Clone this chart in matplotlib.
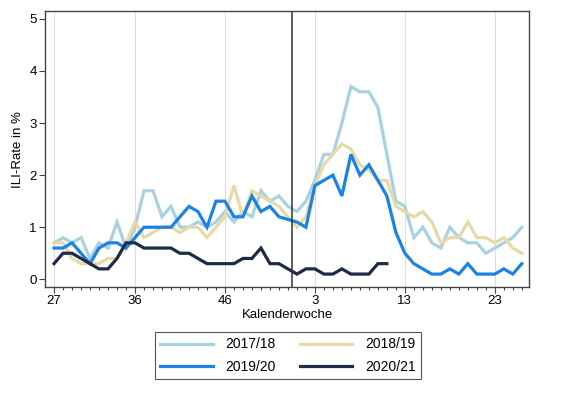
import numpy as np
import matplotlib
matplotlib.use('Agg')
import matplotlib.pyplot as plt
from matplotlib.ticker import FixedLocator

# Kalenderwochen (2020 mit KW 53)
weeks = list(range(27, 54)) + list(range(1, 27))
tick_weeks_idx = [0, 9, 19, 29, 39, 49]

# ILI-Rate in % je Saison
ili_1718 = [0.7, 0.8, 0.7, 0.8, 0.4, 0.7, 0.6, 1.1, 0.6, 1.0,
            1.7, 1.7, 1.2, 1.4, 1.0, 1.0, 1.1, 1.0, 1.1, 1.3,
            1.1, 1.3, 1.2, 1.7, 1.5, 1.6, 1.4, 1.3, 1.5, 1.9,
            2.4, 2.4, 3.0, 3.7, 3.6, 3.6, 3.3, 2.4, 1.5, 1.4,
            0.8, 1.0, 0.7, 0.6, 1.0, 0.8, 0.7, 0.7, 0.5, 0.6,
            0.7, 0.8, 1.0]
ili_1819 = [0.7, 0.7, 0.4, 0.3, 0.3, 0.3, 0.4, 0.4, 0.7, 1.1,
            0.8, 0.9, 1.0, 1.0, 0.9, 1.0, 1.0, 0.8, 1.0, 1.2,
            1.8, 1.2, 1.7, 1.6, 1.5, 1.4, 1.2, 1.0, 1.2, 1.8,
            2.2, 2.4, 2.6, 2.5, 2.2, 2.1, 1.9, 1.9, 1.4, 1.3,
            1.2, 1.3, 1.1, 0.7, 0.8, 0.8, 1.1, 0.8, 0.8, 0.7,
            0.8, 0.6, 0.5]
ili_1920 = [0.6, 0.6, 0.7, 0.5, 0.3, 0.6, 0.7, 0.7, 0.6, 0.8,
            1.0, 1.0, 1.0, 1.0, 1.2, 1.4, 1.3, 1.0, 1.5, 1.5,
            1.2, 1.2, 1.6, 1.3, 1.4, 1.2, 1.15, 1.1, 1.0, 1.8,
            1.9, 2.0, 1.6, 2.4, 2.0, 2.2, 1.9, 1.6, 0.9, 0.5,
            0.3, 0.2, 0.1, 0.1, 0.2, 0.1, 0.3, 0.1, 0.1, 0.1,
            0.2, 0.1, 0.3]
ili_2021 = [0.3, 0.5, 0.5, 0.4, 0.3, 0.2, 0.2, 0.4, 0.7, 0.7,
            0.6, 0.6, 0.6, 0.6, 0.5, 0.5, 0.4, 0.3, 0.3, 0.3,
            0.3, 0.4, 0.4, 0.6, 0.3, 0.3, 0.2, 0.1, 0.2, 0.2,
            0.1, 0.1, 0.2, 0.1, 0.1, 0.1, 0.3, 0.3]

seasons = ['2017/18', '2018/19', '2019/20', '2020/21']
colors = ['#a9d1e2', '#e8d9a8', '#1b82e6', '#1e2a4a']

plt.rcParams['font.family'] = ['Liberation Sans', 'DejaVu Sans']
plt.rcParams['font.size'] = 9.5

fig = plt.figure(figsize=(5.63, 3.96), dpi=100)
ax = fig.add_axes([0.080, 0.275, 0.8596, 0.697])

x = np.arange(len(weeks))
lines = []
for data, lab, col in zip([ili_1718, ili_1819, ili_1920, ili_2021], seasons, colors):
    ln, = ax.plot(x[:len(data)], data, color=col, lw=2.3, label=lab, solid_joinstyle='miter')
    lines.append(ln)

# Jahreswechsel
ax.axvline(26.5, color='#333333', lw=1.1)

ax.set_xlim(-1, 52.8)
ax.set_ylim(-0.15, 5.15)
ax.set_xticks(tick_weeks_idx)
ax.set_xticklabels([str(weeks[i]) for i in tick_weeks_idx])
ax.xaxis.set_minor_locator(FixedLocator(x))
ax.set_yticks(range(0, 6))
ax.grid(axis='x', which='major', color='#dddddd', lw=0.8)
ax.set_axisbelow(True)

for sp in ax.spines.values():
    sp.set_color('#444444')
    sp.set_linewidth(1.0)
ax.tick_params(axis='both', which='major', length=4, width=0.8, color='#444444', pad=2)
ax.tick_params(axis='x', which='minor', length=2.5, width=0.8, color='#444444')
ax.tick_params(axis='y', which='minor', length=0)

ax.set_xlabel('Kalenderwoche', labelpad=1)
ax.set_ylabel('ILI-Rate in %', labelpad=4)

# Legende zeilenweise: 17/18, 18/19 oben; 19/20, 20/21 unten
order = [0, 2, 1, 3]
leg = fig.legend([lines[k] for k in order], [seasons[k] for k in order],
                 loc='center', bbox_to_anchor=(0.5115, 0.102), ncol=2,
                 handlelength=3.8, handletextpad=0.9, columnspacing=1.7,
                 labelspacing=0.6, fancybox=False, framealpha=1,
                 edgecolor='#555555', fontsize=10)
leg.get_frame().set_linewidth(0.8)

fig.savefig('out.png', dpi=100)
